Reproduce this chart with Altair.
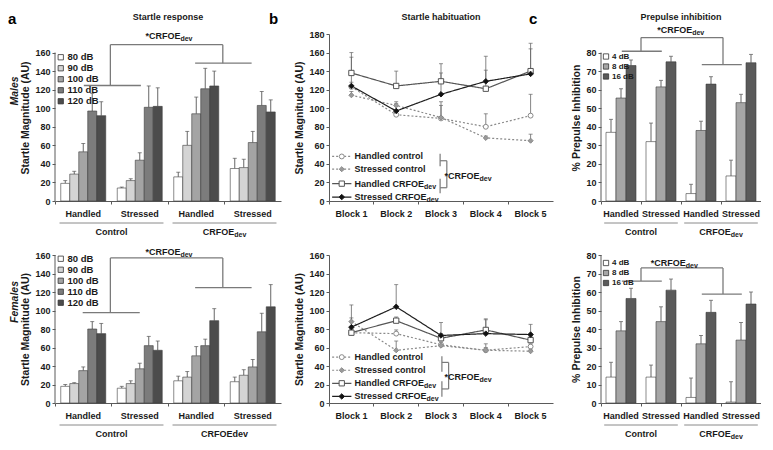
import altair as alt
import pandas as pd

FONT = "Liberation Sans"
INK = "#1a1a1a"
AXIS_C = "#5a5a5a"
BRACKET_C = "#7a7a7a"

# ---------------- data ----------------
groups = ["HC", "SC", "HCRF", "SCRF"]
group_names = ["Handled", "Stressed", "Handled", "Stressed"]
cohorts = ["Control", "CRFOE"]

# a: startle response (rows = dB level, cols = group)
startle_levels = ["80 dB", "90 dB", "100 dB", "110 dB", "120 dB"]
startle_colors = ["#ffffff", "#d4d4d4", "#a4a4a4", "#7c7c7c", "#4c4c4c"]
males_mean = [[19, 14, 26, 35], [29, 22, 60, 36], [53, 44, 94, 63],
              [97, 101, 121, 103], [92, 102, 124, 96]]
males_top = [[22, 15, 31, 46], [32, 24, 75, 45], [62, 52, 112, 75],
             [116, 124, 143, 118], [107, 122, 140, 109]]
females_mean = [[18, 16, 24, 23], [21, 21, 28, 30], [35, 37, 51, 39],
                [80, 62, 62, 77], [75, 57, 89, 104]]
females_top = [[20, 18, 29, 28], [22, 24, 34, 36], [39, 43, 61, 47],
               [88, 72, 69, 97], [86, 67, 102, 128]]

# b: startle habituation (rows = series, cols = block)
blocks = ["Block 1", "Block 2", "Block 3", "Block 4", "Block 5"]
hab_series = ["Handled control", "Stressed control", "Handled CRFOE", "Stressed CRFOE"]
hab_males_mean = [[123, 93, 89, 80, 92], [114, 103, 90, 68, 65],
                  [138, 124, 129, 121, 140], [124, 97, 115, 129, 137]]
hab_males_top = [[128, 97, 107, 94, 115], [118, 107, 103, 70, 72],
                 [160, 140, 148, 141, 170], [155, 105, 138, 156, 164]]
hab_females_mean = [[76, 75, 63, 57, 61], [88, 57, 62, 57, 56],
                    [76, 89, 70, 79, 68], [82, 104, 73, 75, 74]]
hab_females_top = [[80, 79, 66, 60, 64], [92, 67, 65, 64, 58],
                   [80, 93, 75, 90, 72], [106, 128, 87, 91, 85]]

# c: prepulse inhibition (rows = prepulse level, cols = group)
ppi_levels = ["4 dB", "8 dB", "16 dB"]
ppi_colors = ["#ffffff", "#a6a6a6", "#5a5a5a"]
ppi_males_mean = [[37, 32, 4, 13.5], [55.5, 61.5, 38, 53], [73, 75, 63, 74.5]]
ppi_males_top = [[44, 42, 9, 22], [60.5, 65, 43, 57.5], [76, 78, 67, 79]]
ppi_females_mean = [[14, 14, 3, 0.5], [39, 44, 32, 34], [56.5, 61, 49, 53.5]]
ppi_females_top = [[22, 20.5, 13.5, 11.5], [44, 52, 36.5, 43.5], [62, 67, 55.5, 60]]

# ---------------- styles / annotation geometry ----------------
hab_stroke = ["#8a8a8a", "#8a8a8a", "#555555", "#1e1e1e"]
hab_dash = [[2, 2], [2, 2], [1, 0], [1, 0]]
hab_shape = ["circle", "diamond", "square", "diamond"]
hab_fill = ["#ffffff", "#9a9a9a", "#ffffff", "#111111"]
hab_size = [24, 30, 30, 30]

ADV = {" ": 278, "*": 389, "C": 722, "R": 722, "F": 611, "O": 778, "E": 667,
       "H": 722, "S": 667, "a": 556, "n": 611, "d": 611, "l": 278, "e": 556,
       "t": 333, "r": 389, "s": 556, "c": 556, "o": 611, "v": 556}


def tw(s, size):
    return sum(ADV.get(ch, 600) for ch in s) * size / 1000.0


def expr_map(keys, vals):
    e = "''"
    for k, v in reversed(list(zip(keys, vals))):
        e = f"datum.value === '{k}' ? '{v}' : ({e})"
    return e


def one():
    return pd.DataFrame({"k": [0]})


def sub_label(data, xenc, yenc, main, sub, size, subsize, center):
    shift = 0.0
    if center:
        shift = (tw(main, size) + tw(sub, subsize)) / 2 - tw(sub, subsize)
    m = alt.Chart(data).mark_text(align="right", baseline="middle", dx=shift, fontSize=size,
                                  fontWeight="bold", color=INK).encode(
        x=xenc, y=yenc, text=alt.value(main))
    s = alt.Chart(data).mark_text(align="left", baseline="middle", dx=shift, dy=3, fontSize=subsize,
                                  fontWeight="bold", color=INK).encode(
        x=xenc, y=yenc, text=alt.value(sub))
    return [m, s]


def bracket_df(b):
    return pd.DataFrame([
        {"x": b["left"], "x2": b["right"], "y": b["top"], "y2": b["top"]},
        {"x": b["left"], "x2": b["left"], "y": b["cy"], "y2": b["top"]},
        {"x": b["right"], "x2": b["right"], "y": b["ry"], "y2": b["top"]},
        {"x": b["cx0"], "x2": b["cx1"], "y": b["cy"], "y2": b["cy"]},
        {"x": b["rx0"], "x2": b["rx1"], "y": b["ry"], "y2": b["ry"]},
    ])


def heading_layers(letter, lx, title, w):
    out = []
    if letter:
        out.append(alt.Chart(one()).mark_text(align="left", baseline="middle", fontSize=15,
                                              fontWeight="bold", color="#000").encode(
            x=alt.value(lx), y=alt.value(-15), text=alt.value(letter)))
    if title:
        out.append(alt.Chart(one()).mark_text(align="center", baseline="middle", fontSize=9,
                                              fontWeight="bold", color=INK).encode(
            x=alt.value(w / 2), y=alt.value(-17), text=alt.value(title)))
    return out


def bar_panel(levels, colors, means, tops, w, h, ymax, tick_max, tick_step, po,
              ytitle, sex, sex_y, br, leg, cohort_sub, title=None, letter=None, lx=0):
    df = pd.DataFrame([{"grp": g, "lev": lev, "m": means[li][gi], "t": tops[li][gi]}
                       for li, lev in enumerate(levels) for gi, g in enumerate(groups)])
    n = len(groups)
    xb = alt.X("grp:N", sort=groups,
               scale=alt.Scale(domain=groups, paddingInner=0, paddingOuter=0),
               axis=alt.Axis(title=None, labelExpr=expr_map(groups, group_names), labelAngle=0,
                             bandPosition=0, tickSize=3, labelPadding=5, labelFontSize=9))
    xo = alt.XOffset("lev:N", sort=levels,
                     scale=alt.Scale(domain=levels, paddingInner=0, paddingOuter=po))
    ysc = alt.Scale(domain=[0, ymax], nice=False, zero=False)
    yax = alt.Axis(title=ytitle, values=list(range(0, tick_max + 1, tick_step)), domain=False,
                   tickSize=3, labelFontSize=9, titleFontSize=10.5, titlePadding=4, labelPadding=2)

    def Y(f):
        return alt.Y(f, type="quantitative", scale=ysc, axis=yax)

    bars = alt.Chart(df).mark_bar(stroke="#3c3c3c", strokeWidth=0.6).encode(
        x=xb, xOffset=xo, y=Y("m"),
        fill=alt.Fill("lev:N", sort=levels, scale=alt.Scale(domain=levels, range=colors),
                      legend=alt.Legend(title=None, orient="none", legendX=1, legendY=leg["y"],
                                        symbolType="square", symbolSize=28,
                                        labelFontSize=leg["size"], labelFontWeight="bold",
                                        labelFont=FONT, labelColor=INK,
                                        symbolStrokeColor="#333333", symbolStrokeWidth=0.8,
                                        rowPadding=leg["pad"], labelOffset=2, padding=0)))
    errs = alt.Chart(df).mark_rule(color="#555555", strokeWidth=0.9).encode(
        x=xb, xOffset=xo, y=Y("m"), y2=alt.Y2("t"))
    caps = alt.Chart(df).mark_tick(color="#555555", size=4, thickness=1).encode(
        x=xb, xOffset=xo, y=Y("t"))
    data_layer = alt.layer(errs, caps, bars)

    xq = alt.Scale(domain=[0, n], nice=False, zero=False)

    def XQ(f):
        return alt.X(f, type="quantitative", scale=xq, axis=None)

    ann = []
    ann.append(alt.Chart(pd.DataFrame({"x": [0], "y": [0], "y2": [tick_max]})).mark_rule(
        color=AXIS_C, strokeWidth=1).encode(x=XQ("x"), y=Y("y"), y2=alt.Y2("y2")))
    ann.append(alt.Chart(bracket_df(br)).mark_rule(color=BRACKET_C, strokeWidth=1.3).encode(
        x=XQ("x"), x2=alt.X2("x2"), y=Y("y"), y2=alt.Y2("y2")))
    ann += sub_label(pd.DataFrame({"x": [br["tx"]], "y": [br["ty"]]}), XQ("x"), Y("y"),
                     "*CRFOE", "dev", 9, 7, center=False)
    ann.append(alt.Chart(pd.DataFrame({"x": [0.08, 2.08], "x2": [1.92, 3.92]})).mark_rule(
        color="#8a8a8a", strokeWidth=1).encode(x=XQ("x"), x2=alt.X2("x2"), y=alt.value(h + 22)))
    ann.append(alt.Chart(pd.DataFrame({"x": [1.0], "t": [cohorts[0]]})).mark_text(
        fontSize=9, fontWeight="bold", color=INK, baseline="middle").encode(
        x=XQ("x"), y=alt.value(h + 31), text="t:N"))
    if cohort_sub:
        ann += sub_label(pd.DataFrame({"x": [3.0]}), XQ("x"), alt.value(h + 31),
                         cohorts[1], "dev", 9, 7, center=True)
    else:
        ann.append(alt.Chart(pd.DataFrame({"x": [3.0], "t": [cohorts[1] + "dev"]})).mark_text(
            fontSize=9, fontWeight="bold", color=INK, baseline="middle").encode(
            x=XQ("x"), y=alt.value(h + 31), text="t:N"))
    if sex:
        ann.append(alt.Chart(one()).mark_text(angle=270, fontSize=10.5, fontStyle="italic",
                                              fontWeight="bold", color=INK, baseline="middle").encode(
            x=alt.value(-40), y=alt.value(sex_y), text=alt.value(sex)))
    ann += heading_layers(letter, lx, title, w)
    return alt.layer(data_layer, alt.layer(*ann)).resolve_scale(x="independent").properties(
        width=w, height=h)


def hab_panel(means, tops, w, h, ymax, leg_ys, lb, title=None, letter=None, lx=0):
    df = pd.DataFrame([{"blk": b, "s": s, "m": means[si][bi], "t": tops[si][bi]}
                       for si, s in enumerate(hab_series) for bi, b in enumerate(blocks)])
    n = len(blocks)
    step = w / n
    xb = alt.X("blk:N", sort=blocks,
               scale=alt.Scale(domain=blocks, paddingInner=0, paddingOuter=0),
               axis=alt.Axis(title=None, labelAngle=0, bandPosition=0, tickSize=3,
                             labelPadding=5, labelFontSize=9))
    ysc = alt.Scale(domain=[0, ymax], nice=False, zero=False)
    yax = alt.Axis(title="Startle Magnitude (AU)", values=list(range(0, ymax + 1, 20)),
                   tickSize=3, labelFontSize=9, titleFontSize=10.5, titlePadding=4, labelPadding=2)

    def Y(f):
        return alt.Y(f, type="quantitative", scale=ysc, axis=yax)

    st = alt.Stroke("s:N", scale=alt.Scale(domain=hab_series, range=hab_stroke), legend=None)
    sd = alt.StrokeDash("s:N", scale=alt.Scale(domain=hab_series, range=hab_dash), legend=None)
    sh = alt.Shape("s:N", scale=alt.Scale(domain=hab_series, range=hab_shape), legend=None)
    fl = alt.Fill("s:N", scale=alt.Scale(domain=hab_series, range=hab_fill), legend=None)
    sz = alt.Size("s:N", scale=alt.Scale(domain=hab_series, range=hab_size), legend=None)

    errs = alt.Chart(df).mark_rule(color="#666666", strokeWidth=0.8).encode(
        x=xb, y=Y("m"), y2=alt.Y2("t"))
    caps = alt.Chart(df).mark_tick(color="#666666", size=4, thickness=1).encode(x=xb, y=Y("t"))
    lines = alt.Chart(df).mark_line(strokeWidth=1.2).encode(x=xb, y=Y("m"), stroke=st, strokeDash=sd)
    pts = alt.Chart(df).mark_point(filled=True, opacity=1, strokeWidth=1).encode(
        x=xb, y=Y("m"), shape=sh, fill=fl, stroke=st, size=sz)
    data_layer = alt.layer(errs, caps, lines, pts)

    xq = alt.Scale(domain=[0, n], nice=False, zero=False)

    def XQ(f):
        return alt.X(f, type="quantitative", scale=xq, axis=None)

    subs = ["", "", "dev", "dev"]
    leg = pd.DataFrame({"s": hab_series, "y": leg_ys, "label": hab_series, "sub": subs,
                        "x1": 0.07, "x2": 0.5, "xm": 0.285, "xt": 0.57})
    leg["xs"] = [0.57 + tw(l, 9) / step for l in hab_series]
    legs = leg[leg["sub"] != ""]
    ann = []
    ann.append(alt.Chart(leg).mark_rule(strokeWidth=1.2).encode(
        x=XQ("x1"), x2=alt.X2("x2"), y=Y("y"), stroke=st, strokeDash=sd))
    ann.append(alt.Chart(leg).mark_point(filled=True, opacity=1, strokeWidth=1).encode(
        x=XQ("xm"), y=Y("y"), shape=sh, fill=fl, stroke=st, size=sz))
    ann.append(alt.Chart(leg).mark_text(align="left", baseline="middle", fontSize=9,
                                        fontWeight="bold", color=INK).encode(
        x=XQ("xt"), y=Y("y"), text="label:N"))
    ann.append(alt.Chart(legs).mark_text(align="left", baseline="middle", dy=3, fontSize=7,
                                         fontWeight="bold", color=INK).encode(
        x=XQ("xs"), y=Y("y"), text="sub:N"))
    segs = pd.DataFrame([
        {"x": lb["vx"], "x2": lb["vx"], "y": lb["u0"], "y2": lb["u1"]},
        {"x": lb["vx"], "x2": lb["vx"], "y": lb["l0"], "y2": lb["l1"]},
        {"x": lb["vx"], "x2": lb["bx"], "y": lb["hu"], "y2": lb["hu"]},
        {"x": lb["vx"], "x2": lb["bx"], "y": lb["hl"], "y2": lb["hl"]},
        {"x": lb["bx"], "x2": lb["bx"], "y": lb["hl"], "y2": lb["hu"]},
    ])
    ann.append(alt.Chart(segs).mark_rule(color=BRACKET_C, strokeWidth=1.2).encode(
        x=XQ("x"), x2=alt.X2("x2"), y=Y("y"), y2=alt.Y2("y2")))
    ann += sub_label(pd.DataFrame({"x": [lb["tx"]], "y": [lb["ty"]]}), XQ("x"), Y("y"),
                     "*CRFOE", "dev", 9, 7, center=False)
    ann += heading_layers(letter, lx, title, w)
    return alt.layer(data_layer, alt.layer(*ann)).resolve_scale(x="independent").properties(
        width=w, height=h)


TOP_H, BOT_H = 167, 148
AW, BW, CW = 226, 224, 160

a_top_br = dict(top=168.5, left=0.98, right=2.97, cy=124.5, cx0=0.51, cx1=1.52,
                ry=148.6, rx0=2.48, rx1=3.48, tx=2.22, ty=178)
a_bot_br = dict(top=156.8, left=0.98, right=2.97, cy=97.8, cx0=0.49, cx1=1.50,
                ry=124.7, rx0=2.48, rx1=3.48, tx=2.22, ty=163)
c_top_br = dict(top=88.1, left=1.0, right=3.05, cy=80.7, cx0=0.52, cx1=1.52,
                ry=73.5, rx0=2.52, rx1=3.52, tx=2.28, ty=92)
c_bot_br = dict(top=73, left=1.0, right=3.05, cy=65.9, cx0=0.52, cx1=1.52,
                ry=58.9, rx0=2.52, rx1=3.52, tx=2.12, ty=75.6)
b_top_lb = dict(vx=2.48, bx=2.63, u0=37.5, u1=51, l0=8.3, l1=24, hu=43.4, hl=14.3, tx=3.36, ty=27)
b_bot_lb = dict(vx=2.52, bx=2.67, u0=33.7, u1=50.6, l0=6.8, l1=23.6, hu=43.9, hl=15.2, tx=3.36, ty=28)

a1 = bar_panel(startle_levels, startle_colors, males_mean, males_top, AW, TOP_H, 180, 160, 20, 0.64,
               "Startle Magnitude (AU)", "Males", 57, a_top_br,
               dict(y=18.5, size=9.5, pad=0), True, title="Startle response", letter="a", lx=-47)
a2 = bar_panel(startle_levels, startle_colors, females_mean, females_top, AW, BOT_H, 160, 160, 20, 0.64,
               "Startle Magnitude (AU)", "Females", 47, a_bot_br,
               dict(y=-1, size=9.5, pad=0), False)
b1 = hab_panel(hab_males_mean, hab_males_top, BW, TOP_H, 180, [48, 34.3, 18.7, 4.2], b_top_lb,
               title="Startle habituation", letter="b", lx=-60)
b2 = hab_panel(hab_females_mean, hab_females_top, BW, BOT_H, 160, [49.6, 35.4, 21.3, 7.1], b_bot_lb)
c1 = bar_panel(ppi_levels, ppi_colors, ppi_males_mean, ppi_males_top, CW, TOP_H, 90, 80, 10, 0.5,
               "% Prepulse Inhibition", None, 0, c_top_br,
               dict(y=18.5, size=8, pad=0), True, title="Prepulse inhibition", letter="c", lx=-72)
c2 = bar_panel(ppi_levels, ppi_colors, ppi_females_mean, ppi_females_top, CW, BOT_H, 80, 80, 10, 0.5,
               "% Prepulse Inhibition", None, 0, c_bot_br,
               dict(y=4, size=8, pad=0), True)

chart = alt.concat(a1, b1, c1, a2, b2, c2, columns=3, spacing={"row": 54, "column": 48},
                   bounds="flush", align="each").resolve_scale(
    fill="independent", xOffset="independent", stroke="independent",
    strokeDash="independent", shape="independent", size="independent"
).resolve_legend(fill="independent").properties(
    padding={"left": 0, "top": 4, "right": 0, "bottom": 0}
).configure_view(stroke=None).configure_axis(
    labelFont=FONT, titleFont=FONT, labelFontWeight="bold", titleFontWeight="bold",
    labelColor=INK, titleColor=INK, domainColor=AXIS_C, tickColor=AXIS_C, grid=False
).configure_text(font=FONT).configure_legend(labelFont=FONT)

chart.save("out.html", embed_options={"renderer": "svg", "actions": False})
